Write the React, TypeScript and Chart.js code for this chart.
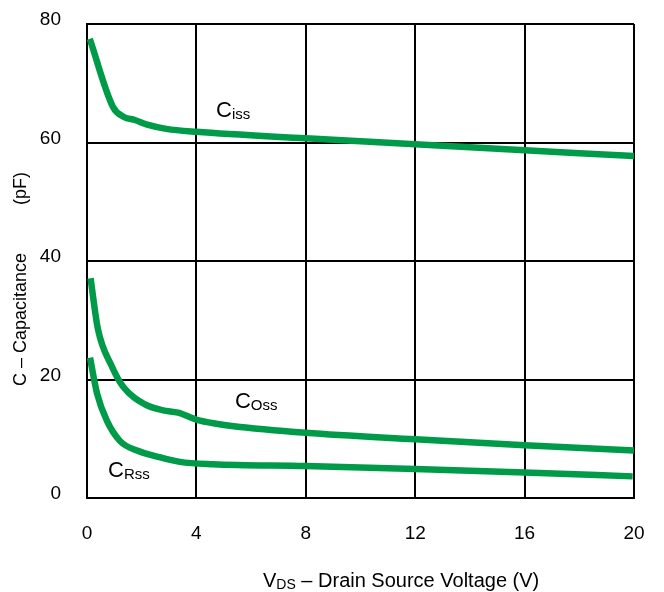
import { useEffect, useRef } from "react";
import { Chart, registerables } from "chart.js";

Chart.register(...registerables);

const FONT = '"Liberation Sans", Arial, Helvetica, sans-serif';
const GREEN = "#009b48";

// X ticks / Y ticks
const xTickStep = 4;
const yTickStep = 20;

// Ciss
const vCiss = [0.1, 0.95, 1.35, 1.75, 2.2, 2.9, 4, 8, 12, 16, 20];
const cCiss = [77.5, 66.0, 64.3, 63.8, 63.0, 62.3, 61.8, 60.7, 59.7, 58.7, 57.7];

// Coss
const vCoss = [0.13, 0.4, 0.91, 1.32, 2.12, 2.78, 3.33, 4.02, 4.79, 5.23, 8, 12, 16, 20];
const cCoss = [37.1, 28.5, 22.2, 18.8, 15.8, 14.8, 14.4, 13.2, 12.5, 12.2, 11.0, 9.9, 8.9, 8.0];

// Crss
const vCrss = [0.11, 0.37, 0.73, 1.21, 1.83, 2.56, 3.4, 4.6, 8, 12, 16, 19.95];
const cCrss = [23.7, 17.6, 13.0, 9.6, 8.0, 7.0, 6.1, 5.7, 5.4, 4.9, 4.3, 3.65];

// curve labels: [main, subscript, x value, y value]
const curveLabels: [string, string, number, number][] = [
  ["C", "iss", 4.72, 64.3],
  ["C", "Oss", 5.41, 15.2],
  ["C", "Rss", 0.77, 3.55],
];

const xTitleMain = "V";
const xTitleSub = "DS";
const xTitleRest = " \u2013 Drain Source Voltage (V)";
const yTitleMain = "C \u2013 Capacitance";
const yTitleUnit = "(pF)";

const toPts = (xs: number[], ys: number[]) => xs.map((x, i) => ({ x, y: ys[i] }));

const textPlugin = {
  id: "texts",
  afterDraw(chart: any) {
    const ctx: CanvasRenderingContext2D = chart.ctx;
    const xs = chart.scales.x;
    const ys = chart.scales.y;
    ctx.save();
    ctx.fillStyle = "#000";
    ctx.textAlign = "left";
    ctx.textBaseline = "alphabetic";

    // curve labels
    for (const [m, s, xv, yv] of curveLabels) {
      const px = xs.getPixelForValue(xv);
      const py = ys.getPixelForValue(yv);
      ctx.font = `22px ${FONT}`;
      ctx.fillText(m, px, py);
      const w = ctx.measureText(m).width;
      ctx.font = `15px ${FONT}`;
      ctx.fillText(s, px + w, py + 2);
    }

    // x title
    let tx = 263;
    const ty = 587;
    ctx.font = `20px ${FONT}`;
    ctx.fillText(xTitleMain, tx, ty);
    tx += ctx.measureText(xTitleMain).width;
    ctx.font = `14px ${FONT}`;
    ctx.fillText(xTitleSub, tx, ty + 2);
    tx += ctx.measureText(xTitleSub).width;
    ctx.font = `20px ${FONT}`;
    ctx.fillText(xTitleRest, tx, ty);

    // y title
    ctx.translate(26, 386);
    ctx.rotate(-Math.PI / 2);
    ctx.font = `18px ${FONT}`;
    ctx.fillText(yTitleMain, 0, 0);
    ctx.fillText(yTitleUnit, 181, 0);
    ctx.restore();
  },
};

export default function App() {
  const ref = useRef<HTMLCanvasElement>(null);
  useEffect(() => {
    const ds = (pts: { x: number; y: number }[]) => ({
      data: pts,
      borderColor: GREEN,
      borderWidth: 6.5,
      pointRadius: 0,
      fill: false,
      cubicInterpolationMode: "monotone" as const,
      borderCapStyle: "butt" as const,
      borderJoinStyle: "round" as const,
    });
    const chart = new Chart(ref.current!, {
      type: "line",
      data: {
        datasets: [ds(toPts(vCiss, cCiss)), ds(toPts(vCoss, cCoss)), ds(toPts(vCrss, cCrss))],
      },
      options: {
        animation: false,
        responsive: false,
        layout: { padding: { top: 24, right: 30, left: 0, bottom: 0 } },
        plugins: { legend: { display: false }, tooltip: { enabled: false }, title: { display: false } },
        scales: {
          x: {
            type: "linear",
            min: 0,
            max: 20,
            ticks: { stepSize: xTickStep, padding: 24, color: "#000", font: { family: FONT, size: 19 } },
            grid: { color: "#000", lineWidth: 2, drawTicks: false },
            border: { color: "#000", width: 2 },
            afterFit: (s: any) => {
              s.height = 94;
              s.paddingLeft = 0;
              s.paddingRight = 0;
              s.paddingTop = 0;
              s.paddingBottom = 0;
            },
          },
          y: {
            type: "linear",
            min: 0,
            max: 80,
            ticks: { stepSize: yTickStep, padding: 26, labelOffset: -4, color: "#000", font: { family: FONT, size: 19 } },
            grid: { color: "#000", lineWidth: 2, drawTicks: false },
            border: { color: "#000", width: 2 },
            afterFit: (s: any) => {
              s.width = 87;
              s.paddingLeft = 0;
              s.paddingRight = 0;
              s.paddingTop = 0;
              s.paddingBottom = 0;
            },
          },
        },
      },
      plugins: [textPlugin],
    });
    return () => chart.destroy();
  }, []);
  return (
    <div style={{ position: "absolute", left: 0, top: 0, width: 664, height: 592, background: "#fff" }}>
      <canvas ref={ref} width={664} height={592} />
    </div>
  );
}
